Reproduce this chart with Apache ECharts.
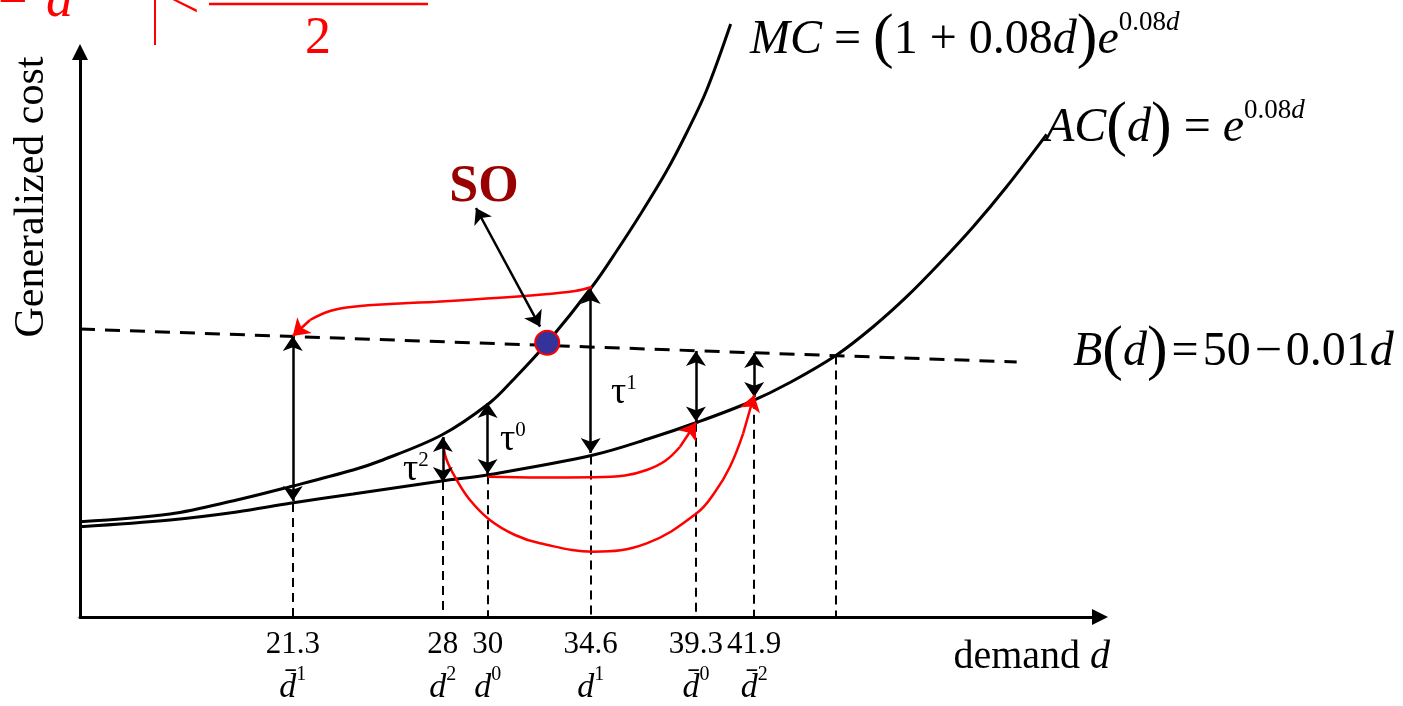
<!DOCTYPE html>
<html>
<head>
<meta charset="utf-8">
<title>Generalized cost vs demand</title>
<script src="https://cdn.jsdelivr.net/npm/echarts@6/dist/echarts.min.js"></script>
<style>
html, body { margin: 0; padding: 0; background: #fff; }
#chart { width: 1403px; height: 706px; }
</style>
</head>
<body>
<div id="chart"></div>
<script>
var serif = '"Liberation Serif", "Times New Roman", serif';

// demand values marked under the axis
var tickValues = [21.3, 28, 30, 34.6, 39.3, 41.9];
var tickBar = [true, false, false, false, true, true];
var tickSup = ['1', '2', '0', '1', '0', '2'];

// curves, [demand, cost]
var mcCurve = [[11.8, 9.53], [15.82, 10.3], [18.8, 11.7], [21.18, 13.03], [23.99, 14.7], [25.19, 15.6],
	[27.95, 18.2], [30.1, 21.43], [31.13, 23.7], [32.66, 27.43], [34.72, 33.2], [35.76, 36.6],
	[36.8, 40.2], [37.99, 44.6], [38.88, 48.4], [39.78, 52.7], [40.85, 59.3]];
var acCurve = [[11.8, 9.03], [15.82, 9.7], [18.8, 10.5], [21.18, 11.37], [23.99, 12.3], [27.95, 13.6],
	[30.1, 14.25], [34.72, 16.2], [37.25, 17.87], [39.39, 19.5], [41.71, 21.5], [43.5, 23.45],
	[45.58, 26.2], [47.2, 29.0], [48.71, 32.03], [50.19, 35.4], [51.68, 39.03], [53.17, 43.03],
	[54.96, 48.27]];
var bLine = [[11.8, 28.8], [53.62, 25.5]];

// dashed drops from the AC curve down to the axis
var dropX = [21.3, 28, 30, 34.6, 39.3, 41.9, 45.55];
var dropTop = [11.4, 13.6, 14.17, 16.15, 19.43, 21.72, 26.15];

// black double arrows between the curves
var gapTop = [28.1, 18.0, 21.4, 32.8, 26.6, 26.4];
var gapBottom = [11.6, 13.5, 14.3, 16.4, 19.55, 22.0];

// red paths, last point is the arrow tip
var red1 = [[34.65, 33.0], [33.9, 32.6], [32.19, 32.2], [29.66, 31.8], [27.72, 31.53], [26.09, 31.35],
	[24.0, 31.03], [22.96, 30.6], [22.07, 29.7], [21.3, 28.1]];
var red2 = [[30.0, 14.03], [32.33, 13.95], [34.72, 13.97], [36.13, 14.15], [37.1, 14.7], [37.92, 15.6],
	[38.59, 17.03], [39.3, 19.43]];
var red3 = [[28.0, 17.87], [28.14, 15.9], [28.62, 13.7], [29.21, 11.7], [30.1, 9.7], [31.22, 8.2],
	[32.34, 7.37], [34.72, 6.53], [37.1, 7.37], [39.33, 10.37], [40.15, 12.5], [40.82, 15.03],
	[41.41, 18.37], [41.9, 22.2]];

var soPoint = [32.66, 27.43];
var soPointer = [[29.48, 40.9], [32.34, 29.03]];

var myChart = echarts.init(document.getElementById('chart'));

var drops = dropX.map(function (x, i) {
	return { coords: [[x, dropTop[i]], [x, 0]] };
});
var gaps = tickValues.map(function (x, i) {
	return { coords: [[x, gapTop[i]], [x, gapBottom[i]]] };
});
function redPath(pts) {
	return {
		type: 'line',
		data: pts.slice(0, -1),
		smooth: 0.4,
		symbol: 'none',
		silent: true,
		z: 4,
		lineStyle: { color: '#ff0000', width: 2.5 }
	};
}
function redHead(pts) {
	return { coords: [pts[pts.length - 2], pts[pts.length - 1]] };
}

var sub = function (size, italic) {
	return { fontFamily: serif, fontSize: size, fontStyle: italic ? 'italic' : 'normal', fill: '#000', lineHeight: 30, verticalAlign: 'top' };
};
var main = function (size, italic) {
	return { fontFamily: serif, fontSize: size, fontStyle: italic ? 'italic' : 'normal', fill: '#000', lineHeight: 62 };
};
var formulaRich = { i: main(48, true), n: main(48), p: main(62), s: sub(27), si: sub(27, true) };
var bRich = { i: main(48, true), n: main(48), p: main(62) };
var tauRich = { t: { fontFamily: serif, fontSize: 38, fill: '#000', lineHeight: 40 }, s: { fontFamily: serif, fontSize: 21, fill: '#000', lineHeight: 22, verticalAlign: 'top' } };

option = {
	animation: false,
	backgroundColor: '#fff',
	grid: { left: 80, right: 303, top: 52, bottom: 89 },
	xAxis: {
		type: 'value',
		min: 11.8,
		max: 57.34,
		axisLine: { show: true, symbol: ['none', 'triangle'], symbolSize: [16, 16], lineStyle: { color: '#000', width: 3 } },
		axisTick: { show: false },
		splitLine: { show: false },
		axisLabel: {
			customValues: tickValues,
			margin: 8,
			formatter: function (v) {
				var i = 0;
				tickValues.forEach(function (t, k) { if (Math.abs(t - v) < 1e-6) i = k; });
				return '{v|' + tickValues[i] + '}\n{d|' + (tickBar[i] ? 'd\u0304' : 'd') + '}{s|' + tickSup[i] + '}';
			},
			rich: {
				v: { fontFamily: serif, fontSize: 31, color: '#000', lineHeight: 40 },
				d: { fontFamily: serif, fontSize: 34, fontStyle: 'italic', color: '#000', lineHeight: 46 },
				s: { fontFamily: serif, fontSize: 20, color: '#000', lineHeight: 30, verticalAlign: 'top' }
			}
		}
	},
	yAxis: {
		type: 'value',
		min: 0,
		max: 56.5,
		axisLine: { show: true, symbol: ['none', 'triangle'], symbolSize: [16, 16], lineStyle: { color: '#000', width: 3 } },
		axisTick: { show: false },
		axisLabel: { show: false },
		splitLine: { show: false }
	},
	series: [{
		name: 'drops',
		type: 'lines',
		coordinateSystem: 'cartesian2d',
		data: drops,
		symbol: 'none',
		silent: true,
		z: 1,
		lineStyle: { color: '#000', width: 2, type: [9, 6], opacity: 1 }
	}, {
		name: 'B',
		type: 'line',
		data: bLine,
		symbol: 'none',
		silent: true,
		z: 2,
		lineStyle: { color: '#000', width: 3, type: [15, 10] }
	}, {
		name: 'MC',
		type: 'line',
		data: mcCurve,
		smooth: 0.35,
		symbol: 'none',
		clip: false,
		silent: true,
		z: 3,
		lineStyle: { color: '#000', width: 3 }
	}, {
		name: 'AC',
		type: 'line',
		data: acCurve,
		smooth: 0.35,
		symbol: 'none',
		silent: true,
		z: 3,
		lineStyle: { color: '#000', width: 3 }
	}, {
		name: 'gaps',
		type: 'lines',
		coordinateSystem: 'cartesian2d',
		data: gaps.concat([{ coords: soPointer }]),
		symbol: ['arrow', 'arrow'],
		symbolSize: 15,
		silent: true,
		z: 5,
		lineStyle: { color: '#000', width: 2.5, opacity: 1 }
	},
	redPath(red1), redPath(red2), redPath(red3), {
		name: 'redHeads',
		type: 'lines',
		coordinateSystem: 'cartesian2d',
		data: [redHead(red1), redHead(red2), redHead(red3)],
		symbol: ['none', 'arrow'],
		symbolSize: 16,
		silent: true,
		z: 6,
		lineStyle: { color: '#ff0000', width: 2.5, opacity: 1 }
	}, {
		name: 'SO',
		type: 'scatter',
		data: [soPoint],
		symbolSize: 24,
		silent: true,
		z: 7,
		itemStyle: { color: '#333399', borderColor: '#ff0000', borderWidth: 2, opacity: 1 }
	}],
	graphic: [
		{ type: 'text', x: 32, y: 197, rotation: Math.PI / 2, style: { text: 'Generalized cost', font: '42px ' + serif, fill: '#000', align: 'center', verticalAlign: 'middle' } },
		{ type: 'text', x: 1110, y: 657, style: { text: '{n|demand }{i|d}', align: 'right', verticalAlign: 'middle', rich: { n: main(40), i: main(40, true) } } },
		{ type: 'text', x: 750, y: 40, style: { text: '{i|MC}{n| = }{p|(}{n|1 + 0.08}{i|d}{p|)}{i|e}{s|0.08}{si|d}', verticalAlign: 'middle', rich: formulaRich } },
		{ type: 'text', x: 1045, y: 128, style: { text: '{i|AC}{p|(}{i|d}{p|)}{n| = }{i|e}{s|0.08}{si|d}', verticalAlign: 'middle', rich: formulaRich } },
		{ type: 'text', x: 1073, y: 352, style: { text: '{i|B}{p|(}{i|d}{p|)}{n|\u200a=\u200a50\u200a\u2212\u200a0.01}{i|d}', verticalAlign: 'middle', rich: bRich } },
		{ type: 'text', x: 611, y: 393, style: { text: '{t|\u03c4}{s|1}', verticalAlign: 'middle', rich: tauRich } },
		{ type: 'text', x: 500, y: 440, style: { text: '{t|\u03c4}{s|0}', verticalAlign: 'middle', rich: tauRich } },
		{ type: 'text', x: 403, y: 470, style: { text: '{t|\u03c4}{s|2}', verticalAlign: 'middle', rich: tauRich } },
		{ type: 'text', x: 484, y: 188, style: { text: 'SO', font: 'bold 52px ' + serif, fill: '#990000', align: 'center', verticalAlign: 'middle' } },
		// red formula cut off at the top edge
		{ type: 'text', x: -2, y: 4, style: { text: '\u2212', font: '52px ' + serif, fill: '#ff0000', verticalAlign: 'middle' } },
		{ type: 'text', x: 46, y: 2, style: { text: 'd', font: 'italic 54px ' + serif, fill: '#ff0000', verticalAlign: 'middle' } },
		{ type: 'line', shape: { x1: 155, y1: 0, x2: 155, y2: 45 }, style: { stroke: '#ff0000', lineWidth: 2 } },
		{ type: 'text', x: 170, y: 3, style: { text: '<', font: '52px ' + serif, fill: '#ff0000', verticalAlign: 'middle' } },
		{ type: 'line', shape: { x1: 209, y1: 4, x2: 428, y2: 4 }, style: { stroke: '#ff0000', lineWidth: 2.5 } },
		{ type: 'text', x: 318, y: 39, style: { text: '2', font: '52px ' + serif, fill: '#ff0000', align: 'center', verticalAlign: 'middle' } }
	]
};
myChart.setOption(option);
window.addEventListener("resize", function() {
	myChart.resize();
});
</script>
</body>
</html>
